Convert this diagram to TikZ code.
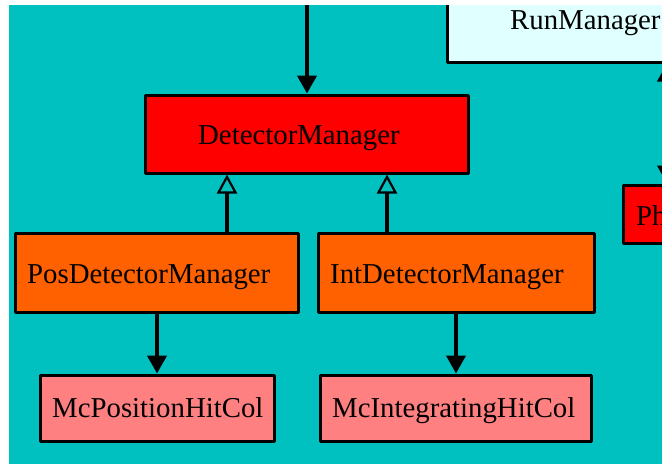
\documentclass[tikz,border=0pt]{standalone}
\usepackage{fontspec}
\setmainfont{Liberation Serif}
\usetikzlibrary{arrows.meta}
\definecolor{bgteal}{RGB}{0,192,192}
\definecolor{boxred}{RGB}{255,0,0}
\definecolor{boxorange}{RGB}{255,96,0}
\definecolor{boxpink}{RGB}{255,128,128}
\definecolor{boxcyan}{RGB}{224,255,255}
\begin{document}
\begin{tikzpicture}[x=1pt,y=-1pt,
  box/.style={draw=black, line width=3pt, line join=round, inner sep=0pt},
  lbl/.style={anchor=base west, inner sep=0pt, font=\fontsize{28.8}{34}\selectfont},
  dep/.style={line width=4pt, -{Triangle[length=18pt,width=19pt]}},
  bidep/.style={line width=4pt, {Triangle[length=18pt,width=19pt]}-{Triangle[length=18pt,width=19pt]}},
  inh/.style={line width=4pt, -{Triangle[open,length=19pt,width=20pt,line width=2.2pt]}}]
\useasboundingbox (0,0) rectangle (662,464);
\fill[white] (0,0) rectangle (662,464);
\clip (9,5) rectangle (662,464);
\fill[bgteal] (9,5) rectangle (662,464);

% boxes
\node[box, fill=boxcyan, minimum width=453pt, minimum height=92pt] (rm) at (673.5,16) {};
\node[box, fill=boxred, minimum width=323pt, minimum height=78pt] (dm) at (306.5,134) {};
\node[box, fill=boxred, minimum width=277pt, minimum height=58pt] (ph) at (761.5,214) {};
\node[box, fill=boxorange, minimum width=283pt, minimum height=79pt] (pos) at (156.5,272.5) {};
\node[box, fill=boxorange, minimum width=276pt, minimum height=79pt] (int) at (456,272.5) {};
\node[box, fill=boxpink, minimum width=234pt, minimum height=66pt] (mcpos) at (157,408) {};
\node[box, fill=boxpink, minimum width=271pt, minimum height=66pt] (mcint) at (455.5,408) {};

% labels
\node[lbl] (rmt) at (510,29) {RunManager};
\node[lbl] (dmt) at (198,144) {DetectorManager};
\node[lbl] (pht) at (636,225) {Ph};
\node[lbl] (post) at (27,283) {PosDetectorManager};
\node[lbl] (intt) at (330,283) {IntDetectorManager};
\node[lbl] (mcpost) at (52,417) {McPositionHitCol};
\node[lbl] (mcintt) at (332,417) {McIntegratingHitCol};

% connector coordinates
\coordinate (topin) at (307,0);
\coordinate (xa) at (227,0);
\coordinate (xb) at (387,0);
\coordinate (xc) at (157,0);
\coordinate (xd) at (456,0);
\coordinate (xe) at (667,0);

% connectors
\draw[dep] (topin) -- (dm.north -| topin);
\draw[inh] (pos.north -| xa) -- (dm.south -| xa);
\draw[inh] (int.north -| xb) -- (dm.south -| xb);
\draw[dep] (pos.south -| xc) -- (mcpos.north -| xc);
\draw[dep] (int.south -| xd) -- (mcint.north -| xd);
\draw[bidep] (rm.south -| xe) -- (ph.north -| xe);
\end{tikzpicture}
\end{document}
